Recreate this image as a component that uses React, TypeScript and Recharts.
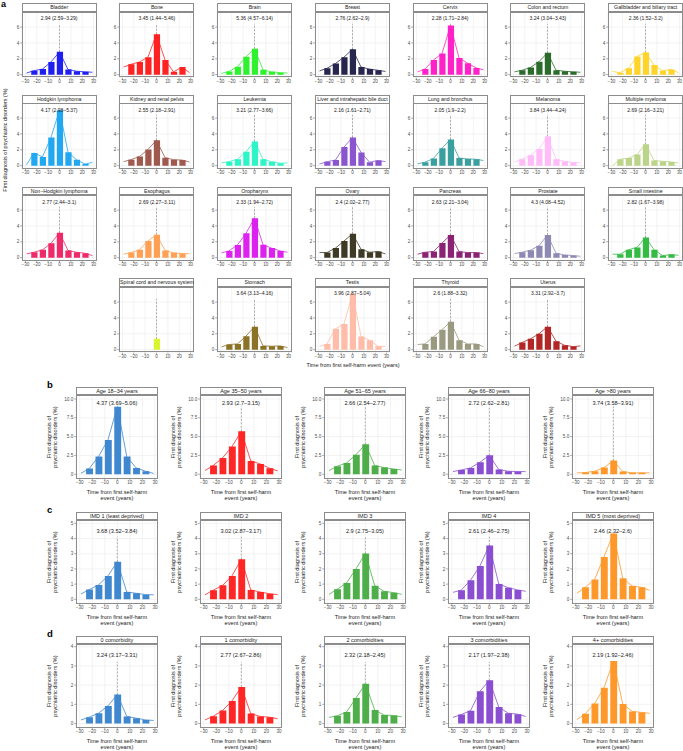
import React from 'react';
import { ComposedChart, Bar, Line, XAxis, YAxis, CartesianGrid, ReferenceLine } from 'recharts';

const FONT = '"Liberation Sans", Arial, Helvetica, sans-serif';

// x positions: first and last are line-only end points, the 7 middle ones are bars
const timePoints = [-29, -22.5, -15, -7.5, 0, 7.5, 15, 22.5, 29];
const xTicks = [-30, -20, -10, 0, 10, 20, 30];

// ---------- panel a : cancer sites ----------
const cancerNames = [
  'Bladder', 'Bone', 'Brain', 'Breast', 'Cervix', 'Colon and rectum', 'Gallbladder and biliary tract',
  'Hodgkin lymphoma', 'Kidney and renal pelvis', 'Leukemia', 'Liver and intrahepatic bile duct', 'Lung and bronchus', 'Melanoma', 'Multiple myeloma',
  'Non\u2212Hodgkin lymphoma', 'Esophagus', 'Oropharynx', 'Ovary', 'Pancreas', 'Prostate', 'Small intestine',
  'Spinal cord and nervous system', 'Stomach', 'Testis', 'Thyroid', 'Uterus',
];
const cancerEstimates = [
  '2.94 (2.59\u20133.29)', '3.45 (1.44\u20135.46)', '5.36 (4.57\u20136.14)', '2.76 (2.62\u20132.9)', '2.28 (1.71\u20132.84)', '3.24 (3.04\u20133.43)', '2.36 (1.52\u20133.2)',
  '4.17 (2.98\u20135.37)', '2.55 (2.18\u20132.91)', '3.21 (2.77\u20133.66)', '2.16 (1.61\u20132.71)', '2.05 (1.9\u20132.2)', '3.84 (3.44\u20134.24)', '2.69 (2.16\u20133.21)',
  '2.77 (2.44\u20133.1)', '2.69 (2.27\u20133.11)', '2.33 (1.94\u20132.72)', '2.4 (2.02\u20132.77)', '2.63 (2.21\u20133.04)', '4.3 (4.08\u20134.52)', '2.82 (1.67\u20133.98)',
  '', '3.64 (3.13\u20134.16)', '3.96 (2.87\u20135.04)', '2.6 (1.88\u20133.32)', '3.31 (2.92\u20133.7)',
];
const cancerValues: (number | null)[][] = [
  [0.2, 0.5, 0.7, 1.6, 2.87, 0.65, 0.43, 0.35, 0.3],
  [0.95, 1.3, 1.6, 2.2, 5.1, 1.85, 0.35, 0.95, 0.25],
  [0.15, 0.4, 1.0, 2.27, 3.26, 0.6, 0.35, 0.25, 0.2],
  [0.47, 0.8, 1.4, 2.2, 3.2, 0.95, 0.7, 0.55, 0.4],
  [0.35, 0.7, 1.85, 2.65, 6.2, 2.1, 1.45, 0.85, 0.6],
  [0.35, 0.55, 0.9, 1.63, 2.75, 0.55, 0.43, 0.35, 0.3],
  [0.4, 0.25, 0.8, 2.3, 2.8, 1.2, 0.5, 0.65, 0.25],
  [0.1, 1.6, 1.1, 3.55, 7.0, 1.7, 0.73, 0.2, 0.4],
  [0.5, 0.75, 1.15, 2.05, 3.2, 1.0, 0.75, 0.7, 0.45],
  [0.35, 0.5, 0.8, 1.75, 3.05, 0.8, 0.5, 0.3, 0.35],
  [0.2, 0.5, 0.7, 2.35, 3.55, 1.67, 0.43, 0.65, 0.5],
  [0.22, 0.43, 0.9, 2.2, 3.3, 0.95, 0.85, 0.8, 0.65],
  [0.45, 0.8, 1.3, 2.1, 3.7, 0.8, 0.55, 0.4, 0.35],
  [0.0, 0.8, 0.95, 1.4, 2.7, 0.65, 0.55, 0.47, 0.35],
  [0.47, 0.68, 0.98, 1.8, 3.15, 0.9, 0.68, 0.55, 0.25],
  [0.43, 0.64, 0.98, 2.1, 2.9, 0.9, 0.6, 0.51, 0.5],
  [0.6, 0.85, 1.6, 3.06, 4.98, 1.62, 1.2, 0.85, 0.68],
  [0.64, 0.64, 1.2, 2.1, 3.0, 1.06, 0.68, 0.77, 0.47],
  [0.43, 0.68, 0.77, 1.83, 2.85, 0.77, 0.64, 0.64, 0.51],
  [0.5, 0.68, 0.94, 1.5, 2.85, 0.55, 0.34, 0.26, 0.17],
  [0.43, 0.43, 1.0, 1.28, 2.55, 1.0, 0.26, 0.38, 0.3],
  [null, null, null, null, 1.36, null, null, null, null],
  [0.34, 0.64, 0.72, 1.7, 2.9, 0.47, 0.43, 0.47, 0.26],
  [0.38, 0.72, 2.64, 3.23, 7.06, 1.66, 1.19, 0.43, 0.4],
  [0.64, 0.72, 1.62, 2.51, 3.53, 1.19, 0.72, 0.72, 0.38],
  [0.43, 0.9, 1.36, 2.0, 2.9, 1.06, 0.55, 0.38, 0.47],
];
const cancerColors = [
  '#1f1ff0', '#ff2222', '#2ef22e', '#26264f', '#ff22c8', '#2b6b2b', '#ffd42a',
  '#22a8f0', '#a0594f', '#2ef5c8', '#8a55cf', '#3a9f9f', '#ffbcf8', '#bcd48a',
  '#ef2a6a', '#ffa055', '#dd22f0', '#3e3a26', '#8b2375', '#8e89b3', '#33bb44',
  '#d8f530', '#8b7226', '#ffbca8', '#9a9a80', '#b22626',
];
// grid cell (row, column) of each cancer panel
const cancerGrid: [number, number][] = [
  [0, 0], [0, 1], [0, 2], [0, 3], [0, 4], [0, 5], [0, 6],
  [1, 0], [1, 1], [1, 2], [1, 3], [1, 4], [1, 5], [1, 6],
  [2, 0], [2, 1], [2, 2], [2, 3], [2, 4], [2, 5], [2, 6],
  [3, 1], [3, 2], [3, 3], [3, 4], [3, 5],
];
const cancerYTicks = [0, 2, 4, 6];

// ---------- panel b : age ----------
const ageNames = ['Age 18\u201334 years', 'Age 35\u201350 years', 'Age 51\u201365 years', 'Age 66\u201380 years', 'Age >80 years'];
const ageEstimates = ['4.37 (3.69\u20135.06)', '2.93 (2.7\u20133.15)', '2.66 (2.54\u20132.77)', '2.72 (2.62\u20132.81)', '3.74 (3.58\u20133.91)'];
const ageValues: number[][] = [
  [0.13, 0.75, 2.35, 4.56, 8.98, 2.35, 0.84, 0.4, 0.1],
  [0.49, 1.15, 2.17, 3.67, 5.7, 1.77, 1.37, 0.8, 0.44],
  [0.49, 1.06, 1.5, 2.6, 3.98, 1.15, 0.88, 0.7, 0.57],
  [0.35, 0.57, 0.84, 1.6, 2.52, 0.62, 0.4, 0.35, 0.35],
  [0.18, 0.22, 0.4, 0.88, 1.81, 0.35, 0.18, 0.18, 0.18],
];
const ageYTicks = [0, 2.5, 5, 7.5, 10];

// ---------- panel c : IMD ----------
const imdNames = ['IMD 1 (least deprived)', 'IMD 2', 'IMD 3', 'IMD 4', 'IMD 5 (most deprived)'];
const imdEstimates = ['3.68 (3.52\u20133.84)', '3.02 (2.87\u20133.17)', '2.9 (2.75\u20133.05)', '2.61 (2.46\u20132.75)', '2.46 (2.32\u20132.6)'];
const imdValues: number[][] = [
  [0.35, 0.64, 0.95, 1.54, 2.47, 0.48, 0.4, 0.31, 0.3],
  [0.3, 0.6, 0.92, 1.54, 2.64, 0.62, 0.48, 0.37, 0.31],
  [0.33, 0.66, 1.08, 2.0, 3.02, 0.9, 0.53, 0.44, 0.33],
  [0.46, 0.6, 1.26, 2.2, 3.55, 1.01, 0.77, 0.62, 0.53],
  [0.4, 0.79, 1.3, 2.78, 4.34, 1.39, 0.88, 0.79, 0.6],
];
const imdYTicks = [0, 1, 2, 3, 4, 5];

// ---------- panel d : comorbidities ----------
const comorbNames = ['0 comorbidity', '1 comorbidity', '2 comorbidities', '3 comorbidities', '4+ comorbidities'];
const comorbEstimates = ['3.24 (3.17\u20133.31)', '2.77 (2.67\u20132.86)', '2.32 (2.18\u20132.45)', '2.17 (1.97\u20132.38)', '2.19 (1.92\u20132.46)'];
const comorbValues: number[][] = [
  [0.19, 0.33, 0.54, 0.92, 1.51, 0.37, 0.28, 0.19, 0.16],
  [0.19, 0.38, 0.68, 1.18, 1.9, 0.52, 0.37, 0.33, 0.25],
  [0.32, 0.4, 0.6, 1.33, 2.07, 0.7, 0.44, 0.42, 0.35],
  [0.32, 0.47, 0.67, 1.68, 2.25, 0.86, 0.54, 0.49, 0.37],
  [0.21, 0.51, 1.04, 1.86, 3.25, 1.02, 0.63, 0.58, 0.53],
];
const comorbYTicks = [0, 1, 2, 3, 4];

const groupColors = ['#3f87cf', '#ff2626', '#4dae4a', '#8a4fd1', '#ff982a'];

const fmtMinus = (v: number) => String(v).replace('-', '\u2212');

type PanelProps = {
  left: number;
  top: number;
  stripH: number;
  w: number;
  h: number;
  yDomain: [number, number];
  yTicks: number[];
  yFmt: (v: number) => string;
  values: (number | null)[];
  color: string;
  title: string;
  estimate: string;
  textY: number;
  dashTop: number;
  tickFont: number;
  stripFont: number;
  textFont: number;
};

function Panel(p: PanelProps) {
  const yAxisW = 18;
  const xAxisH = 10;
  const last = timePoints.length - 1;
  const data = timePoints.map((x, i) => ({
    x,
    line: p.values[i],
    bar: i === 0 || i === last ? null : p.values[i],
  }));
  const [dmin, dmax] = p.yDomain;
  const plotTop = p.top + p.stripH;
  const barPx = (5.5 / 66) * p.w;
  const centerVal = p.values[4];
  const textTop = plotTop + ((dmax - p.textY) / (dmax - dmin)) * p.h;
  return (
    <>
      <div
        style={{
          position: 'absolute', left: p.left - yAxisW, top: plotTop,
          width: p.w + yAxisW, height: p.h + xAxisH,
        }}
      >
        <ComposedChart
          width={p.w + yAxisW}
          height={p.h + xAxisH}
          data={data}
          margin={{ top: 0, right: 0, bottom: 0, left: 0 }}
        >
          <CartesianGrid stroke="#ebebeb" strokeWidth={0.6} />
          <XAxis
            dataKey="x"
            type="number"
            domain={[-33, 33]}
            ticks={xTicks}
            interval={0}
            allowDataOverflow
            height={xAxisH}
            tickSize={1.8}
            tickMargin={0.4}
            axisLine={false}
            tickLine={{ stroke: '#555', strokeWidth: 0.5 }}
            tick={{ fontSize: p.tickFont, fill: '#4d4d4d', fontFamily: FONT }}
            tickFormatter={fmtMinus}
          />
          <YAxis
            type="number"
            domain={p.yDomain}
            ticks={p.yTicks}
            interval={0}
            allowDataOverflow
            width={yAxisW}
            tickSize={1.8}
            tickMargin={1}
            axisLine={false}
            tickLine={{ stroke: '#555', strokeWidth: 0.5 }}
            tick={{ fontSize: p.tickFont, fill: '#4d4d4d', fontFamily: FONT }}
            tickFormatter={p.yFmt}
          />
          {centerVal !== null && centerVal < p.dashTop ? (
            <ReferenceLine
              segment={[{ x: 0, y: centerVal }, { x: 0, y: p.dashTop }]}
              stroke="#8c8c8c"
              strokeWidth={0.7}
              strokeDasharray="2 1.5"
            />
          ) : null}
          <Bar dataKey="bar" fill={p.color} barSize={barPx} isAnimationActive={false} />
          <Line
            dataKey="line"
            type="linear"
            stroke={p.color}
            strokeWidth={0.8}
            dot={false}
            activeDot={false}
            isAnimationActive={false}
          />
        </ComposedChart>
      </div>
      <div
        style={{
          position: 'absolute', left: p.left, top: plotTop, width: p.w, height: p.h,
          border: '0.7px solid #8c8c8c', boxSizing: 'border-box', pointerEvents: 'none',
        }}
      />
      <div
        style={{
          position: 'absolute', left: p.left, top: p.top, width: p.w, height: p.stripH + 0.5,
          border: '0.7px solid #8c8c8c', boxSizing: 'border-box', background: '#fff',
          fontSize: p.stripFont, lineHeight: `${p.stripH - 1}px`, textAlign: 'center',
          whiteSpace: 'nowrap', overflow: 'visible', color: '#1a1a1a',
          display: 'flex', justifyContent: 'center',
        }}
      >
        <span style={{ whiteSpace: 'nowrap' }}>{p.title}</span>
      </div>
      {p.estimate ? (
        <div
          style={{
            position: 'absolute', left: p.left, width: p.w, top: textTop - p.textFont * 0.6,
            fontSize: p.textFont, lineHeight: `${p.textFont * 1.2}px`, textAlign: 'center',
            whiteSpace: 'nowrap', color: '#1a1a1a',
          }}
        >
          {p.estimate}
        </div>
      ) : null}
    </>
  );
}

// layout for panel a
const A_LEFT0 = 21.7;
const A_COLSTEP = 97.75;
const A_TOP0 = 3.3;
const A_ROWSTEP = 91.67;
const A_STRIP = 8.2;
const A_W = 75;
const A_H = 65.8;

// layout for panels b-d
const B_LEFT0 = 75.6;
const B_COLSTEP = 124;
const B_STRIP = 8.3;
const B_W = 82.7;
const B_H = 83.6;
const rowTops = [386.7, 511.7, 635.7];

function GroupRow(props: {
  rowIdx: number; letter: string; names: string[]; estimates: string[]; values: number[][];
  yDomain: [number, number]; yTicks: number[]; yFmt: (v: number) => string; textY: number; dashTop: number;
}) {
  const top = rowTops[props.rowIdx];
  const plotTop = top + B_STRIP;
  return (
    <>
      <div
        style={{
          position: 'absolute', left: 47, top: top - 7, fontSize: 9.5, fontWeight: 'bold',
          lineHeight: '10px', color: '#000',
        }}
      >
        {props.letter}
      </div>
      {props.names.map((name, i) => {
        const left = B_LEFT0 + B_COLSTEP * i;
        return (
          <React.Fragment key={name}>
            <Panel
              left={left}
              top={top}
              stripH={B_STRIP}
              w={B_W}
              h={B_H}
              yDomain={props.yDomain}
              yTicks={props.yTicks}
              yFmt={props.yFmt}
              values={props.values[i]}
              color={groupColors[i]}
              title={name}
              estimate={props.estimates[i]}
              textY={props.textY}
              dashTop={props.dashTop}
              tickFont={4.6}
              stripFont={5.5}
              textFont={5.6}
            />
            <div
              style={{
                position: 'absolute', left: left - 22.8, top: plotTop + B_H / 2,
                transform: 'translate(-50%, -50%) rotate(-90deg)', fontSize: 5.6,
                lineHeight: '5.6px', textAlign: 'center', whiteSpace: 'nowrap', color: '#1a1a1a',
              }}
            >
              First diagnosis of
              <br />
              psychiatric disorders (%)
            </div>
            <div
              style={{
                position: 'absolute', left: left, width: B_W, top: plotTop + B_H + 10.3,
                fontSize: 5.6, lineHeight: '6.6px', textAlign: 'center', whiteSpace: 'nowrap',
                color: '#1a1a1a',
              }}
            >
              Time from first self-harm
              <br />
              event (years)
            </div>
          </React.Fragment>
        );
      })}
    </>
  );
}

export default function App() {
  return (
    <div
      style={{
        position: 'absolute', left: 0, top: 0, width: 683, height: 751, background: '#fff',
        overflow: 'hidden', fontFamily: FONT,
      }}
    >
      <div style={{ position: 'absolute', left: 1, top: 0, fontSize: 9, fontWeight: 'bold', lineHeight: '9px' }}>a</div>
      {cancerNames.map((name, i) => {
        const [r, c] = cancerGrid[i];
        return (
          <Panel
            key={name}
            left={A_LEFT0 + A_COLSTEP * c}
            top={A_TOP0 + A_ROWSTEP * r}
            stripH={A_STRIP}
            w={A_W}
            h={A_H}
            yDomain={[-0.4, 7.9]}
            yTicks={cancerYTicks}
            yFmt={(v) => String(v)}
            values={cancerValues[i]}
            color={cancerColors[i]}
            title={name}
            estimate={cancerEstimates[i]}
            textY={7.05}
            dashTop={6.4}
            tickFont={4.6}
            stripFont={5.2}
            textFont={5.0}
          />
        );
      })}
      <div
        style={{
          position: 'absolute', left: 5, top: 140, transform: 'translate(-50%, -50%) rotate(-90deg)',
          fontSize: 5.5, whiteSpace: 'nowrap', color: '#1a1a1a', lineHeight: '6px',
        }}
      >
        First diagnosis of psychiatric disorders (%)
      </div>
      <div
        style={{
          position: 'absolute', left: 253, width: 200, top: 361.5, fontSize: 5.5, textAlign: 'center',
          whiteSpace: 'nowrap', color: '#1a1a1a', lineHeight: '7px',
        }}
      >
        Time from first self-harm event (years)
      </div>
      <GroupRow
        rowIdx={0}
        letter="b"
        names={ageNames}
        estimates={ageEstimates}
        values={ageValues}
        yDomain={[-0.58, 10.53]}
        yTicks={ageYTicks}
        yFmt={(v) => (v === 0 ? '0' : v.toFixed(1))}
        textY={9.43}
        dashTop={8.98}
      />
      <GroupRow
        rowIdx={1}
        letter="c"
        names={imdNames}
        estimates={imdEstimates}
        values={imdValues}
        yDomain={[-0.28, 5.22]}
        yTicks={imdYTicks}
        yFmt={(v) => String(v)}
        textY={4.49}
        dashTop={4.12}
      />
      <GroupRow
        rowIdx={2}
        letter="d"
        names={comorbNames}
        estimates={comorbEstimates}
        values={comorbValues}
        yDomain={[-0.21, 4.14]}
        yTicks={comorbYTicks}
        yFmt={(v) => String(v)}
        textY={3.53}
        dashTop={3.2}
      />
    </div>
  );
}
